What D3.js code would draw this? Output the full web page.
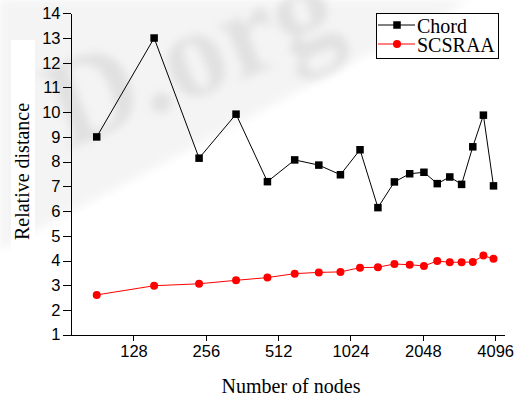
<!DOCTYPE html>
<html>
<head>
<meta charset="utf-8">
<title>Relative distance vs number of nodes</title>
<style>
  body { margin: 0; background: #fff; }
  .tick text { font-family: "Liberation Sans", Arial, sans-serif; font-size: 16.5px; fill: #000; }
  .axis path, .axis line { stroke: #000; stroke-width: 1px; shape-rendering: crispEdges; }
  .title { font-family: "Liberation Serif", "Times New Roman", serif; font-size: 20px; fill: #000; }
  .chord { fill: none; stroke: #000; stroke-width: 1px; }
  .scsraa { fill: none; stroke: #ff0000; stroke-width: 1px; }
</style>
</head>
<body>
<script src="https://d3js.org/d3.v7.min.js"></script>
<script>

var width = 518, height = 397;

// node counts (x) and the two series
var nodes = [90, 156, 240, 342, 462, 600, 756, 930, 1122, 1332, 1560, 1806, 2070, 2352, 2652, 2970, 3306, 3660, 4032];
var chord = [9.0, 13.0, 8.14, 9.92, 7.19, 8.07, 7.86, 7.47, 8.48, 6.14, 7.18, 7.51, 7.57, 7.11, 7.38, 7.08, 8.6, 9.88, 7.02];
var scsraa = [2.61, 2.98, 3.06, 3.2, 3.31, 3.47, 3.52, 3.54, 3.71, 3.73, 3.86, 3.83, 3.78, 3.98, 3.93, 3.93, 3.94, 4.2, 4.07];

var xMajor = [128, 256, 512, 1024, 2048, 4096];
var yMajor = [1, 2, 3, 4, 5, 6, 7, 8, 9, 10, 11, 12, 13, 14];

var svg = d3.select("body").append("svg")
    .attr("width", width)
    .attr("height", height);

// faint watermark in the background
var defs = svg.append("defs");
defs.append("filter").attr("id", "blur")
  .append("feGaussianBlur").attr("stdDeviation", 4);

svg.append("path")
    .attr("d", "M0,0 L470,0 L0,250 Z")
    .attr("fill", "#f4f4f4")
    .attr("filter", "url(#blur)");

svg.append("text")
    .attr("transform", "translate(66,150) rotate(-22)")
    .attr("font-family", "Liberation Serif, serif")
    .attr("font-weight", "bold")
    .attr("font-size", 125)
    .attr("fill", "#d4d4d4")
    .attr("opacity", 0.6)
    .attr("filter", "url(#blur)")
    .text("D.org");

// white strip behind y title
svg.append("rect")
    .attr("x", 11).attr("y", 40).attr("width", 24).attr("height", 225)
    .attr("fill", "#fff");

var x = d3.scaleLog().base(2)
    .domain([70, 4480])
    .range([70.5, 504.5]);

var y = d3.scaleLinear()
    .domain([1, 14])
    .range([334.7, 13.3]);

// minor ticks: 8 per octave, linear inside the octave
var xMinor = [];
[64, 128, 256, 512, 1024, 2048, 4096].forEach(function (lo) {
  for (var k = 1; k <= 8; k++) {
    var v = lo * (1 + k / 9);
    if (v > 70 && v < 4480) xMinor.push(v);
  }
});
var yMinor = d3.range(1.5, 14, 1);

var gx = svg.append("g").attr("class", "axis")
    .attr("transform", "translate(0," + y(1) + ")");
gx.call(d3.axisBottom(x).tickValues(xMinor).tickSize(3).tickFormat("").tickSizeOuter(0));
gx.call(d3.axisBottom(x).tickValues(xMajor).tickSize(6).tickPadding(5).tickFormat(d3.format("d")).tickSizeOuter(0));

var gy = svg.append("g").attr("class", "axis")
    .attr("transform", "translate(" + x.range()[0] + ",0)");
gy.call(d3.axisLeft(y).tickValues(yMinor).tickSize(4).tickFormat("").tickSizeOuter(0));
gy.call(d3.axisLeft(y).tickValues(yMajor).tickSize(8).tickPadding(2).tickSizeOuter(0));

// axis titles
svg.append("text").attr("class", "title")
    .attr("x", 291).attr("y", 393)
    .attr("text-anchor", "middle")
    .text("Number of nodes");

svg.append("text").attr("class", "title")
    .attr("transform", "translate(29,171.5) rotate(-90)")
    .attr("text-anchor", "middle")
    .text("Relative distance");

// series
var chordLine = d3.line()
    .x(function (d, i) { return x(nodes[i]); })
    .y(function (d) { return y(d); });

svg.append("path").datum(scsraa)
    .attr("class", "scsraa")
    .attr("d", chordLine);

svg.append("g").selectAll("circle")
    .data(scsraa)
  .enter().append("circle")
    .attr("cx", function (d, i) { return x(nodes[i]); })
    .attr("cy", function (d) { return y(d); })
    .attr("r", 4)
    .attr("fill", "#ff0000");

svg.append("path").datum(chord)
    .attr("class", "chord")
    .attr("d", chordLine);

svg.append("g").selectAll("rect")
    .data(chord)
  .enter().append("rect")
    .attr("x", function (d, i) { return x(nodes[i]) - 3.75; })
    .attr("y", function (d) { return y(d) - 3.75; })
    .attr("width", 7.5)
    .attr("height", 7.5)
    .attr("fill", "#000");

// legend
var legend = svg.append("g");
legend.append("rect")
    .attr("x", 376.5).attr("y", 13.5).attr("width", 122).attr("height", 45)
    .attr("fill", "#fff").attr("stroke", "#000").attr("stroke-width", 1);

var items = [
  {name: "Chord", color: "#000", shape: "square", ly: 25},
  {name: "SCSRAA", color: "#ff0000", shape: "circle", ly: 44}
];
items.forEach(function (it) {
  legend.append("line")
      .attr("x1", 378).attr("x2", 415)
      .attr("y1", it.ly).attr("y2", it.ly)
      .attr("stroke", it.color).attr("stroke-width", 1);
  if (it.shape == "square") {
    legend.append("rect")
        .attr("x", 397 - 3.75).attr("y", it.ly - 3.75)
        .attr("width", 7.5).attr("height", 7.5)
        .attr("fill", it.color);
  } else {
    legend.append("circle")
        .attr("cx", 397).attr("cy", it.ly).attr("r", 4)
        .attr("fill", it.color);
  }
  legend.append("text").attr("class", "title")
      .attr("x", 417).attr("y", it.ly + 7.5)
      .text(it.name);
});

</script>
</body>
</html>
